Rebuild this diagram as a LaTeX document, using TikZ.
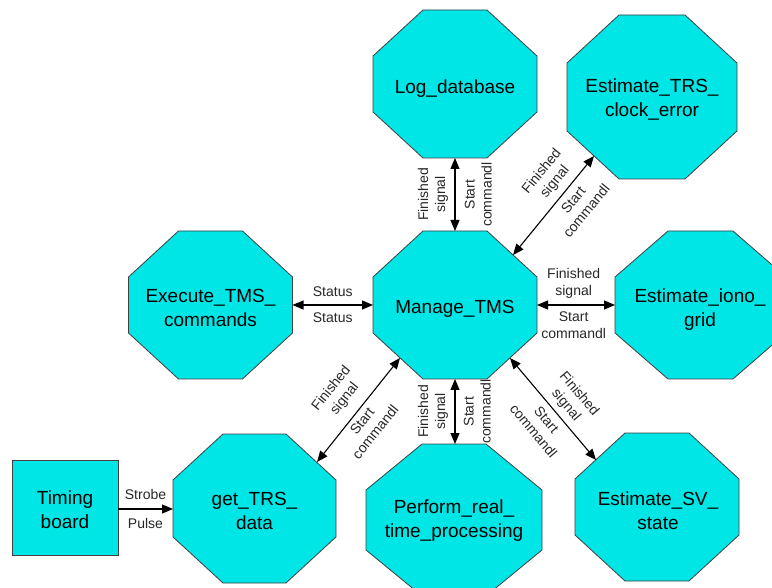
\documentclass[tikz,border=0pt]{standalone}
\usepackage{fontspec}
\setmainfont{Liberation Sans}
\usetikzlibrary{arrows.meta}
\definecolor{octfill}{RGB}{0,230,230}
\definecolor{octline}{RGB}{64,64,64}
\definecolor{lbl}{RGB}{40,40,40}
% octagon: centre x, centre y, half width, half height, cut x, cut y
\newcommand\drawoct[6]{\path[octagonbox] (#1-#3+#5,#2-#4) -- (#1+#3-#5,#2-#4) -- (#1+#3,#2-#4+#6) -- (#1+#3,#2+#4-#6) -- (#1+#3-#5,#2+#4) -- (#1-#3+#5,#2+#4) -- (#1-#3,#2+#4-#6) -- (#1-#3,#2-#4+#6) -- cycle;}
\begin{document}
\begin{tikzpicture}[x=1pt,y=-1pt,
  octagonbox/.style={fill=octfill,draw=octline,line width=0.8pt},
  boxtext/.style={font=\fontsize{19}{24}\selectfont,align=center,text=black,inner sep=0pt},
  lab/.style={font=\fontsize{14}{17}\selectfont,align=center,text=lbl},
  link/.style={line width=1.1pt,{Triangle[length=11pt,width=9pt]}-{Triangle[length=11pt,width=9pt]}},
  oneway/.style={line width=1.1pt,-{Triangle[length=11pt,width=9pt]}}]
\clip (0,0) rectangle (772,588);
\fill[white] (0,0) rectangle (772,588);
% shapes
\drawoct{455}{84}{82}{74}{50}{46}
\drawoct{652}{97}{85}{82}{52}{48}
\drawoct{210.5}{305}{82}{74}{50}{46}
\drawoct{455}{305}{82}{74}{50}{46}
\drawoct{700.5}{305}{85.5}{74}{53}{46}
\drawoct{254.5}{508.5}{81.5}{74.5}{50}{46}
\drawoct{454}{520}{88}{76}{56}{46}
\drawoct{657}{507}{82}{74}{50}{46}
\path[octagonbox] (12,460) rectangle (118,555);
% texts
\node[boxtext] (log) at (455,89) {Log\_database};
\node[boxtext] (trs) at (652,100) {Estimate\_TRS\_\\clock\_error};
\node[boxtext] (exe) at (210.5,308) {Execute\_TMS\_\\commands};
\node[boxtext] (man) at (455,309) {Manage\_TMS};
\node[boxtext] (iono) at (700,310) {Estimate\_iono\_\\grid};
\node[boxtext] (get) at (254.5,511) {get\_TRS\_\\data};
\node[boxtext] (perf) at (454,521) {Perform\_real\_\\time\_processing};
\node[boxtext] (sv) at (658,511) {Estimate\_SV\_\\state};
\node[boxtext] (tim) at (65,510) {Timing\\board};
% border points
\coordinate (log-b) at (455,158);
\coordinate (man-t) at (455,231);
\coordinate (man-ur) at (513,255);
\coordinate (trs-ll) at (594,156);
\coordinate (exe-r) at (292.5,305);
\coordinate (man-l) at (373,305);
\coordinate (man-r) at (537,305);
\coordinate (iono-l) at (615,305);
\coordinate (man-ll) at (400,358);
\coordinate (get-ur) at (317,462);
\coordinate (man-b) at (455,379);
\coordinate (perf-t) at (455,444);
\coordinate (man-lr) at (510,358);
\coordinate (sv-ul) at (596,460);
\coordinate (tim-r) at (118,509);
\coordinate (get-l) at (173,509);
% connectors
\draw[link] (man-t) -- (log-b)
  node[lab,rotate=90,above=3pt,pos=.5] {Finished\\signal}
  node[lab,rotate=90,below=6pt,pos=.5] {Start\\commandl};
\draw[link] (man-ur) -- (trs-ll)
  node[lab,sloped,above=3pt,pos=.65] {Finished\\signal}
  node[lab,sloped,below=3pt,pos=.63] {Start\\commandl};
\draw[link] (exe-r) -- (man-l)
  node[lab,above=4pt,pos=.5] {Status}
  node[lab,below=4pt,pos=.5] {Status};
\draw[link] (man-r) -- (iono-l)
  node[lab,above=3pt,pos=.47] {Finished\\signal}
  node[lab,below=3pt,pos=.47] {Start\\commandl};
\draw[link] (get-ur) -- (man-ll)
  node[lab,sloped,above=7pt,pos=.5] {Finished\\signal}
  node[lab,sloped,below=1pt,pos=.45] {Start\\commandl};
\draw[link] (perf-t) -- (man-b)
  node[lab,rotate=90,above=3pt,pos=.5] {Finished\\signal}
  node[lab,rotate=90,below=5pt,pos=.5] {Start\\commandl};
\draw[link] (man-lr) -- (sv-ul)
  node[lab,sloped,above=2pt,pos=.54] {Finished\\signal}
  node[lab,sloped,below=3pt,pos=.53] {Start\\commandl};
\draw[oneway] (tim-r) -- (get-l)
  node[lab,above=5pt,pos=.5] {Strobe}
  node[lab,below=5pt,pos=.5] {Pulse};
\end{tikzpicture}
\end{document}
